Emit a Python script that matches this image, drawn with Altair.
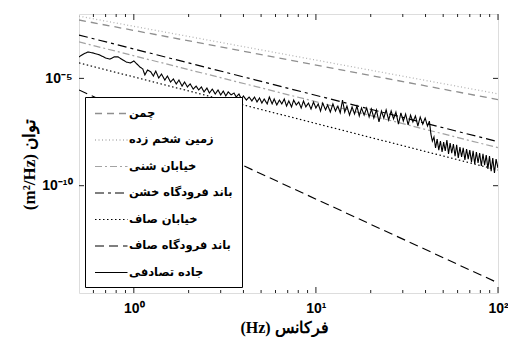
import altair as alt
import pandas as pd

# ---------------- data ----------------
series_names = ["چمن", "زمین شخم زده", "خیابان شنی", "باند فرودگاه خشن",
                "خیابان صاف", "باند فرودگاه صاف", "جاده تصادفی"]
series_colors = ["#8f8f8f", "#b3b3b3", "#a3a3a3", "#000000", "#000000", "#000000", "#000000"]
series_dash = [[7, 5], [1, 2.5], [7, 3, 2, 3], [9, 4, 3, 4], [1.5, 2.5], [9, 5], [1, 0]]
series_width = [1.3, 1.1, 1.3, 2.3, 1.7, 2.1, 1.2]

# straight power-law lines: log10 PSD at f = 0.5 Hz and f = 100 Hz
line_freq = [0.5, 100.0]
chaman_log = [-2.28, -5.99]
shokhm_log = [-2.10, -5.72]
shoni_log = [-3.30, -8.23]
khoshn_log = [-2.98, -7.95]
saf_log = [-4.28, -9.27]
band_saf_log = [-5.54, -14.53]

# random road
rr_freq = [
    0.50, 0.53, 0.56, 0.60, 0.65, 0.70, 0.74, 0.78, 0.82, 0.87,
    0.91, 0.96, 1.00, 1.04, 1.08, 1.12, 1.15, 1.19, 1.24, 1.28,
    1.32, 1.37, 1.42, 1.48, 1.53, 1.59, 1.65, 1.71, 1.77, 1.84,
    1.90, 1.97, 2.04, 2.12, 2.20, 2.27, 2.35, 2.43, 2.52, 2.60,
    2.70, 2.80, 2.90, 3.00, 3.10, 3.20, 3.30, 3.42, 3.55, 3.65,
    3.78, 3.90, 4.00, 4.15, 4.30, 4.45, 4.60, 4.75, 4.90, 5.05,
    5.20, 5.40, 5.55, 5.75, 5.90, 6.10, 6.30, 6.50, 6.70, 6.90,
    7.10, 7.35, 7.55, 7.80, 8.05, 8.30, 8.55, 8.80, 9.10, 9.40,
    9.70, 10.0, 10.3, 10.6, 10.9, 11.3, 11.6, 12.0, 12.4, 12.8,
    13.2, 13.6, 14.0, 14.4, 14.8, 15.3, 15.8, 16.3, 16.8, 17.3,
    17.8, 18.4, 19.0, 19.6, 20.2, 20.8, 21.5, 22.2, 22.9, 23.6,
    24.3, 25.1, 25.9, 26.7, 27.5, 28.4, 29.3, 30.2, 31.1, 32.1,
    33.1, 34.1, 35.2, 36.3, 37.4, 38.6, 39.8, 41.0, 42.0, 42.8,
    43.6, 44.5, 45.4, 46.3, 47.3, 48.3, 49.3, 50.3, 51.3, 52.4,
    53.5, 54.6, 55.7, 56.9, 58.1, 59.3, 60.5, 61.8, 63.1, 64.4,
    65.8, 67.2, 68.6, 70.0, 71.5, 73.0, 74.5, 76.1, 77.7, 79.3,
    81.0, 82.7, 84.4, 86.2, 88.0, 89.8, 91.7, 93.6, 95.6, 97.6,
    100.0,
]
rr_log = [
    -4.00, -3.86, -3.77, -3.82, -3.91, -4.05, -4.10, -4.00, -4.00, -4.14,
    -4.24, -4.28, -4.19, -4.33, -4.47, -4.56, -4.84, -4.61, -4.70, -4.89,
    -4.66, -4.98, -4.80, -5.08, -4.89, -5.17, -5.03, -5.26, -5.08, -5.36,
    -5.17, -5.40, -5.26, -5.50, -5.36, -5.54, -5.40, -5.63, -5.45, -5.68,
    -5.50, -5.73, -5.54, -5.77, -5.59, -5.82, -5.63, -5.77, -5.68, -5.87,
    -5.73, -5.96, -5.82, -6.01, -5.87, -6.05, -5.87, -6.10, -5.91, -6.15,
    -5.96, -6.19, -5.87, -6.19, -5.96, -6.24, -6.01, -6.19, -5.96, -6.29,
    -6.05, -6.33, -6.01, -6.24, -6.10, -6.38, -6.05, -6.33, -6.15, -6.43,
    -6.10, -6.38, -6.19, -6.52, -6.15, -6.47, -6.24, -6.57, -6.19, -6.52,
    -6.29, -6.61, -6.01, -6.57, -6.29, -6.71, -6.33, -6.66, -6.29, -6.75,
    -6.38, -6.71, -6.38, -6.80, -6.43, -6.85, -6.47, -7.03, -6.52, -6.85,
    -6.47, -6.94, -6.52, -6.89, -6.57, -7.13, -6.61, -6.99, -6.66, -7.17,
    -6.71, -7.03, -6.75, -7.22, -6.80, -7.13, -6.85, -7.22, -6.99, -7.59,
    -7.92, -7.73, -8.24, -7.83, -8.34, -7.92, -8.43, -7.97, -8.38, -7.87,
    -8.52, -8.01, -8.48, -8.06, -8.62, -8.10, -8.71, -8.20, -8.66, -8.24,
    -8.80, -8.29, -8.76, -8.34, -8.90, -8.38, -8.99, -8.43, -8.94, -8.48,
    -9.08, -8.52, -9.04, -8.57, -9.22, -8.62, -9.32, -8.71, -9.41, -8.76,
    -9.18,
]

x_major_ticks = [1, 10, 100]
x_minor_ticks = [0.6, 0.7, 0.8, 0.9, 2, 3, 4, 5, 6, 7, 8, 9,
                 20, 30, 40, 50, 60, 70, 80, 90]
y_major_ticks = [1e-10, 1e-5]
x_domain = [0.5, 100]
y_domain = [1e-15, 1e-2]

# ---------------- table ----------------
rows = []
for name, vals in zip(series_names[:6],
                      [chaman_log, shokhm_log, shoni_log, khoshn_log, saf_log, band_saf_log]):
    for f, v in zip(line_freq, vals):
        rows.append({"series": name, "f": f, "psd": 10 ** v})
for f, v in zip(rr_freq, rr_log):
    rows.append({"series": series_names[6], "f": f, "psd": 10 ** v})
df = pd.DataFrame(rows)

W, H = 419, 279
xscale = alt.Scale(type="log", domain=x_domain, nice=False, zero=False)
yscale = alt.Scale(type="log", domain=y_domain, nice=False, zero=False)

legend = alt.Legend(
    title=None, orient="none", legendX=6, legendY=83,
    symbolType="M-1,0L4,0", symbolSize=169,
    labelFont="DejaVu Sans", labelFontSize=11.5, labelFontWeight="bold",
    labelColor="black", labelLimit=300, labelOffset=20,
    fillColor="white", strokeColor="black", padding=9, rowPadding=13.5,
    zindex=1,
)

lines = alt.Chart(df).mark_line(clip=True, strokeCap="butt").encode(
    x=alt.X("f:Q", scale=xscale, axis=alt.Axis(
        values=x_major_ticks,
        labelExpr="datum.value == 1 ? '10⁰' : (datum.value == 10 ? '10¹' : '10²')",
        ticks=False, tickSize=0, domain=False, grid=False, labelFlush=False,
        labelFont="Liberation Sans", labelFontWeight="bold", labelFontSize=14,
        labelColor="black", labelPadding=8,
        title="(Hz) فرکانس", titleFont="Liberation Serif", titleFontSize=16,
        titleFontWeight="bold", titleColor="black", titleX=205, titleY=34,
        titleBaseline="middle", titleAlign="center")),
    y=alt.Y("psd:Q", scale=yscale, axis=alt.Axis(
        values=y_major_ticks,
        labelExpr="datum.value < 1e-7 ? '10⁻¹⁰' : '10⁻⁵'",
        ticks=False, tickSize=0, domain=False, grid=False, labelFlush=False,
        labelFont="Liberation Sans", labelFontWeight="bold", labelFontSize=14,
        labelColor="black", labelPadding=7,
        title="(m²/Hz) توان", titleFont="Liberation Serif", titleFontSize=17,
        titleFontWeight="bold", titleColor="black", titleX=-50, titleY=150,
        titleAngle=270, titleBaseline="middle", titleAlign="center")),
    color=alt.Color("series:N", scale=alt.Scale(domain=series_names, range=series_colors),
                    legend=legend, sort=series_names),
    strokeDash=alt.StrokeDash("series:N", scale=alt.Scale(domain=series_names, range=series_dash),
                              legend=legend, sort=series_names),
    strokeWidth=alt.StrokeWidth("series:N", scale=alt.Scale(domain=series_names, range=series_width),
                                legend=legend, sort=series_names),
    order=alt.Order("f:Q"),
)

df_xmaj = pd.DataFrame({"f": x_major_ticks})
df_xmin = pd.DataFrame({"f": x_minor_ticks})
df_ymaj = pd.DataFrame({"psd": y_major_ticks})

def xticks(d, length):
    top = alt.Chart(d).mark_rule(color="#222", strokeWidth=1).encode(
        x=alt.X("f:Q", scale=xscale), y=alt.value(0), y2=alt.value(length))
    bot = alt.Chart(d).mark_rule(color="#222", strokeWidth=1).encode(
        x=alt.X("f:Q", scale=xscale), y=alt.value(H), y2=alt.value(H - length))
    return [top, bot]

yl = alt.Chart(df_ymaj).mark_rule(color="#222", strokeWidth=1).encode(
    y=alt.Y("psd:Q", scale=yscale), x=alt.value(0), x2=alt.value(5))
yr = alt.Chart(df_ymaj).mark_rule(color="#222", strokeWidth=1).encode(
    y=alt.Y("psd:Q", scale=yscale), x=alt.value(W), x2=alt.value(W - 5))

chart = alt.layer(lines, *xticks(df_xmaj, 6), *xticks(df_xmin, 3), yl, yr).properties(
    width=W, height=H,
    padding={"left": 71, "top": 6, "right": 10, "bottom": 44},
    autosize=alt.AutoSizeParams(type="none"),
).configure_view(stroke="#111", strokeWidth=1.3).configure(background="white")

chart.save("out.html", embed_options={"renderer": "svg", "actions": False})
